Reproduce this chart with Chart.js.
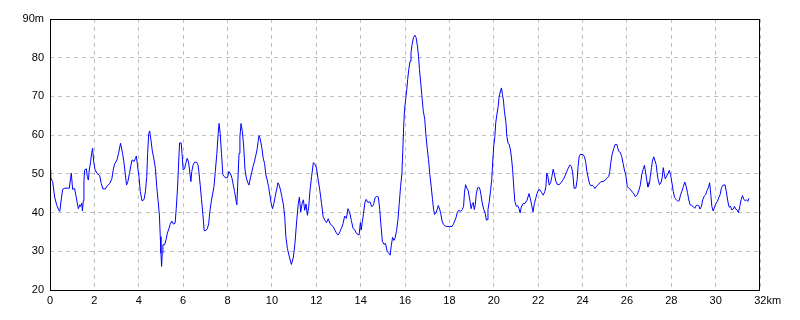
<!DOCTYPE html>
<html>
<head>
<meta charset="utf-8">
<script src="https://cdn.jsdelivr.net/npm/chart.js@4/dist/chart.umd.min.js"></script>
<style>
  body { margin: 0; background: #fff; }
  canvas { display: block; }
</style>
</head>
<body>
<canvas id="profile" width="800" height="320"></canvas>
<script>
// distance along the route (km)
var distKm = [
  0.00, 0.03, 0.12, 0.21, 0.30, 0.39, 0.44, 0.51, 0.57, 0.66, 0.87, 0.93, 0.96, 1.02, 1.11, 1.17, 1.23, 1.28, 1.34, 1.38,
  1.43, 1.46, 1.50, 1.53, 1.56, 1.64, 1.68, 1.73, 1.77, 1.83, 1.88, 1.92, 1.97, 2.03, 2.12, 2.24, 2.31, 2.39, 2.49, 2.58,
  2.69, 2.79, 2.85, 2.91, 3.02, 3.09, 3.18, 3.27, 3.33, 3.39, 3.45, 3.51, 3.58, 3.64, 3.70, 3.79, 3.85, 3.89, 3.94, 4.01,
  4.07, 4.15, 4.24, 4.30, 4.36, 4.40, 4.45, 4.49, 4.55, 4.61, 4.69, 4.75, 4.81, 4.87, 4.93, 4.97, 5.00, 5.03, 5.06, 5.09,
  5.17, 5.23, 5.29, 5.34, 5.42, 5.49, 5.57, 5.64, 5.69, 5.75, 5.79, 5.84, 5.91, 5.95, 6.00, 6.06, 6.12, 6.18, 6.24, 6.29,
  6.35, 6.39, 6.45, 6.52, 6.61, 6.67, 6.71, 6.77, 6.83, 6.89, 6.95, 7.03, 7.09, 7.15, 7.21, 7.27, 7.33, 7.39, 7.45, 7.52,
  7.58, 7.62, 7.67, 7.73, 7.79, 7.85, 7.94, 8.00, 8.06, 8.14, 8.20, 8.26, 8.32, 8.38, 8.42, 8.47, 8.52, 8.56, 8.61, 8.67,
  8.73, 8.79, 8.85, 8.91, 8.97, 9.03, 9.09, 9.15, 9.21, 9.27, 9.33, 9.38, 9.42, 9.48, 9.55, 9.61, 9.67, 9.73, 9.79, 9.85,
  9.91, 9.97, 10.03, 10.09, 10.15, 10.21, 10.27, 10.33, 10.39, 10.45, 10.52, 10.58, 10.63, 10.70, 10.79, 10.88, 10.97, 11.04, 11.12, 11.19,
  11.24, 11.30, 11.36, 11.42, 11.48, 11.54, 11.60, 11.66, 11.72, 11.79, 11.87, 11.94, 12.01, 12.09, 12.16, 12.24, 12.31, 12.39, 12.46, 12.54,
  12.61, 12.69, 12.76, 12.84, 12.91, 12.99, 13.06, 13.13, 13.21, 13.28, 13.36, 13.43, 13.51, 13.58, 13.66, 13.73, 13.81, 13.93, 13.99, 14.03,
  14.07, 14.13, 14.19, 14.25, 14.33, 14.42, 14.50, 14.58, 14.65, 14.71, 14.80, 14.86, 14.92, 14.98, 15.05, 15.12, 15.20, 15.26, 15.33, 15.38,
  15.44, 15.50, 15.56, 15.62, 15.68, 15.74, 15.80, 15.86, 15.90, 15.94, 15.98, 16.03, 16.08, 16.12, 16.17, 16.23, 16.27, 16.32, 16.38, 16.44,
  16.50, 16.56, 16.61, 16.65, 16.71, 16.76, 16.82, 16.89, 16.94, 17.00, 17.06, 17.12, 17.18, 17.24, 17.29, 17.33, 17.39, 17.45, 17.50, 17.56,
  17.62, 17.67, 17.73, 17.79, 17.88, 18.00, 18.12, 18.18, 18.24, 18.30, 18.36, 18.42, 18.50, 18.58, 18.64, 18.68, 18.73, 18.79, 18.85, 18.89,
  18.94, 18.98, 19.03, 19.08, 19.12, 19.17, 19.21, 19.27, 19.32, 19.38, 19.42, 19.48, 19.55, 19.61, 19.67, 19.70, 19.74, 19.80, 19.86, 19.91,
  19.95, 20.00, 20.05, 20.09, 20.14, 20.20, 20.24, 20.30, 20.35, 20.39, 20.44, 20.48, 20.55, 20.59, 20.65, 20.70, 20.76, 20.80, 20.85, 20.91,
  20.95, 21.02, 21.08, 21.14, 21.19, 21.24, 21.32, 21.41, 21.50, 21.59, 21.65, 21.71, 21.77, 21.83, 21.89, 21.95, 22.02, 22.08, 22.15, 22.23,
  22.30, 22.35, 22.39, 22.44, 22.50, 22.56, 22.62, 22.68, 22.74, 22.80, 22.86, 22.95, 23.05, 23.14, 23.23, 23.29, 23.36, 23.44, 23.50, 23.56,
  23.62, 23.70, 23.76, 23.80, 23.85, 23.89, 24.02, 24.09, 24.14, 24.20, 24.26, 24.32, 24.38, 24.44, 24.50, 24.56, 24.62, 24.68, 24.74, 24.83,
  24.92, 25.02, 25.11, 25.18, 25.23, 25.27, 25.33, 25.41, 25.47, 25.55, 25.59, 25.65, 25.71, 25.77, 25.83, 25.89, 25.95, 26.02, 26.08, 26.17,
  26.26, 26.32, 26.38, 26.47, 26.55, 26.61, 26.67, 26.73, 26.79, 26.85, 26.91, 26.95, 27.02, 27.06, 27.11, 27.15, 27.21, 27.27, 27.32, 27.36,
  27.41, 27.47, 27.53, 27.59, 27.64, 27.68, 27.73, 27.79, 27.85, 27.91, 27.97, 28.03, 28.09, 28.15, 28.23, 28.30, 28.36, 28.42, 28.48, 28.55,
  28.61, 28.67, 28.73, 28.79, 28.85, 28.91, 28.98, 29.06, 29.12, 29.18, 29.24, 29.30, 29.36, 29.42, 29.48, 29.55, 29.61, 29.67, 29.73, 29.79,
  29.83, 29.89, 29.95, 30.02, 30.08, 30.14, 30.20, 30.26, 30.32, 30.42, 30.48, 30.55, 30.61, 30.67, 30.73, 30.79, 30.85, 30.91, 30.97, 31.03,
  31.09, 31.15, 31.21, 31.27, 31.33, 31.39, 31.45, 31.50
];

// elevation (m)
var elevM = [
  51, 49, 48, 44, 42, 40.7, 40.3, 43.5, 46, 46.3, 46.3, 49, 50.2, 46, 46.2, 44.3, 42.5, 41, 42, 41.6,
  42.4, 40.4, 43, 48.3, 51, 51.3, 49.3, 48.4, 51, 53.1, 55.5, 56.6, 53.1, 51.1, 50.1, 49.6, 47.5, 46.1, 46.1, 46.9,
  47.5, 48.8, 51.1, 52.5, 53.6, 55.3, 57.9, 55.3, 53.1, 50.1, 47.1, 48, 50.1, 52, 53.6, 53.2, 54, 54.6, 52.4, 49.3,
  45.4, 43, 43.4, 45.4, 49.3, 55.3, 60.4, 61.1, 58.7, 56, 53.6, 51.4, 46.7, 43.2, 39.4, 33.8, 29.5, 26.1, 29.5, 31.7,
  31.7, 33, 34.7, 35.5, 37, 37.8, 37, 37.3, 41, 46.6, 51.8, 58, 58, 55.3, 51, 51.3, 52.7, 54, 53.2, 51,
  48, 50.6, 52.3, 53, 53, 52.3, 50.6, 47.1, 43.3, 39.6, 35.3, 35.4, 35.8, 37.1, 40.5, 42.9, 44.8, 46.7, 50.6, 55.3,
  60.4, 63, 60.4, 55.3, 49.8, 49.3, 49, 49, 50.6, 50, 48.9, 47.1, 45.4, 43.3, 42, 48.5, 55.3, 59.6, 63, 60.9,
  57, 51, 48.9, 47.8, 47.1, 48.9, 50.3, 51.9, 53.1, 54.6, 56.2, 58.3, 59.9, 58.9, 56.6, 54, 52.7, 49.7, 48.4, 46.7,
  44.5, 42.3, 41, 42.3, 44.2, 45.8, 47.7, 47.1, 45.8, 44.1, 42, 38.9, 33.8, 30.7, 28.5, 26.6, 28.5, 32, 38, 42.3,
  44, 40.2, 42.3, 43.3, 40.6, 42.2, 39.3, 41.5, 45.8, 49.3, 52.9, 52.5, 51.5, 48.4, 45.8, 42.3, 38.9, 38, 37.4, 38.4,
  37.3, 36.7, 36.4, 35.5, 34.7, 34.2, 35, 35.9, 37.2, 39.1, 38.5, 41, 40, 38, 35.9, 35.6, 34.6, 34.2, 37.4, 35.5,
  37.4, 39.7, 42.5, 43.4, 42.6, 42.8, 41.5, 42, 43.8, 44.2, 44, 40.8, 36.5, 32.6, 31.8, 32, 29.9, 29.6, 29, 31.4,
  33.6, 32.8, 33.6, 35.4, 38, 42.3, 46.7, 50, 56, 62.3, 66.6, 69.2, 71.8, 74.4, 77, 79.1, 81.3, 83.4, 85.2, 85.8,
  85.2, 83, 80.4, 77, 73.5, 70.2, 66.4, 64.1, 60.2, 56.7, 53.7, 49.8, 46.8, 43.4, 40.8, 39.5, 39.9, 40.8, 41.8, 40.9,
  39.5, 37.8, 37, 36.6, 36.4, 36.4, 36.4, 37, 37.8, 38.7, 40.1, 40.6, 40.3, 40.8, 41.6, 45.1, 47.2, 46.3, 45.7, 44.3,
  42.6, 41, 42.1, 42.6, 40.8, 42.1, 44.7, 46.4, 46.6, 46, 44.7, 42.5, 40.8, 39.9, 38, 38.2, 40.8, 42.9, 45.9, 48.5,
  52.8, 57.2, 59.7, 63.2, 65.3, 67.5, 69.7, 71.4, 72.2, 70.5, 68.8, 66.2, 63.2, 59.7, 57.8, 57.6, 55.9, 54.1, 51.1, 45.9,
  42.9, 41.6, 41.8, 41, 39.9, 41.4, 42.3, 42.4, 43.2, 44.9, 43.6, 41.9, 40.2, 42.3, 43.6, 44.9, 45.9, 45.9, 45.2, 44.5,
  45.4, 46.7, 50.2, 49.3, 47.1, 47.7, 49.3, 51.2, 49.7, 48.1, 47.3, 47.2, 47.9, 48.6, 49.7, 50.6, 51.5, 52.3, 51.9, 50.2,
  46.3, 46.3, 48.5, 51.9, 54.4, 55, 55, 54.4, 53.2, 50.6, 48.9, 47.4, 46.9, 47.1, 46.7, 46.2, 46.7, 47.1, 47.4, 48,
  48, 48.4, 48.9, 49.3, 50.6, 52.7, 54.9, 56.6, 57.6, 57.6, 56.6, 55.7, 55.5, 54.4, 52.7, 51, 49.7, 46.7, 46.3, 45.9,
  45.2, 44.8, 44.1, 44.6, 45.9, 47.2, 49.8, 51.1, 52.2, 50.2, 47.8, 46.6, 47.6, 49.4, 51.6, 53.3, 54.4, 53.3, 52.4, 50.3,
  48.5, 47.2, 47.6, 48.9, 51.6, 50.2, 48.7, 49.4, 50, 50.9, 49.8, 47.7, 45.5, 43.9, 43.3, 42.9, 43.1, 44.6, 45.5, 46.8,
  47.9, 46.8, 45.2, 43.3, 42, 41.9, 41.6, 41.1, 41.8, 41.9, 41.8, 40.9, 41.6, 43.3, 44.2, 44.6, 45.7, 46.4, 47.7, 44.2,
  41.6, 40.4, 41.4, 42.4, 42.9, 43.8, 44.6, 46.3, 47, 47.2, 45.5, 42.9, 41.4, 41.6, 40.7, 40.9, 41.6, 40.9, 40.7, 40,
  41.6, 43.3, 44.4, 43.4, 43.1, 43.3, 42.9, 43.7
];

var xTicks = [0, 2, 4, 6, 8, 10, 12, 14, 16, 18, 20, 22, 24, 26, 28, 30, 32];
var yTicks = [20, 30, 40, 50, 60, 70, 80, 90];

var points = distKm.map((d, i) => ({ x: d, y: elevM[i] }));

// solid black frame round the plot area
var frame = {
    id: 'frame',
    afterDraw(chart) {
        var a = chart.chartArea, ctx = chart.ctx;
        ctx.save();
        ctx.strokeStyle = '#000';
        ctx.lineWidth = 1;
        ctx.setLineDash([]);
        ctx.strokeRect(a.left + 0.5, a.top + 0.5, a.right - a.left - 1, a.bottom - a.top);
        ctx.restore();
    }
};

var font = { family: '"Liberation Sans", Arial, sans-serif', size: 11 };

new Chart(document.getElementById('profile'), {
    type: 'line',
    data: {
        datasets: [{
            data: points,
            borderColor: '#0000ff',
            borderWidth: 1,
            pointRadius: 0,
            tension: 0,
            fill: false
        }]
    },
    options: {
        responsive: false,
        devicePixelRatio: 1,
        animation: false,
        layout: { padding: { top: 19, right: 40, left: 0, bottom: 0 } },
        plugins: { legend: { display: false }, tooltip: { enabled: false } },
        scales: {
            x: {
                type: 'linear',
                min: 0,
                max: 32,
                afterBuildTicks: s => { s.ticks = xTicks.map(v => ({ value: v })); },
                afterFit: s => { s.height = 30; },
                grid: { color: '#c0c0c0', drawTicks: false },
                border: { display: false, dash: [4, 4] },
                ticks: {
                    color: '#000',
                    font: font,
                    padding: 4,
                    maxRotation: 0,
                    autoSkip: false,
                    callback: v => v === 32 ? '     32km' : String(v)
                }
            },
            y: {
                min: 20,
                max: 90,
                afterBuildTicks: s => { s.ticks = yTicks.map(v => ({ value: v })); },
                afterFit: s => { s.width = 50; },
                grid: { color: '#c0c0c0', drawTicks: false },
                border: { display: false, dash: [4, 4] },
                ticks: {
                    color: '#000',
                    font: font,
                    padding: 6,
                    callback: v => v === 90 ? '90m' : String(v)
                }
            }
        }
    },
    plugins: [frame]
});
</script>
</body>
</html>
